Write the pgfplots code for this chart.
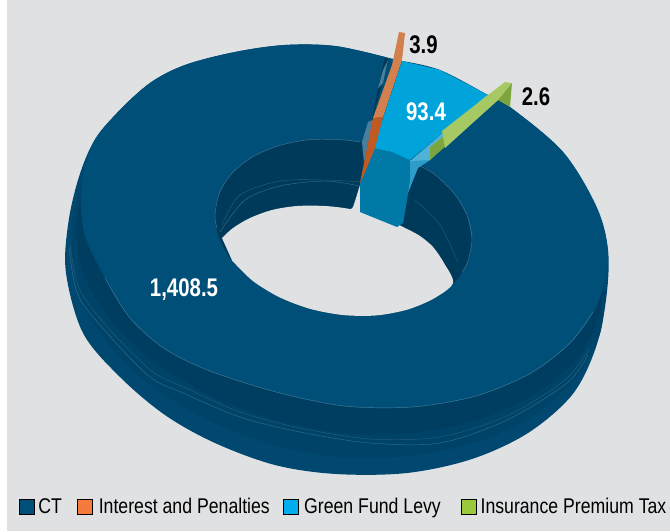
\documentclass[border=0pt]{standalone}
\usepackage{pgfplots}
\pgfplotsset{compat=1.18}
\usepackage{fontspec}
\setmainfont{Liberation Sans}
\newfontfamily\cond[FakeStretch=0.83]{Liberation Sans}
\newfontfamily\condlab[FakeStretch=0.8]{Liberation Sans}
\definecolor{bg}{HTML}{E0E1E3}
\definecolor{ct}{HTML}{004F78}
\definecolor{ctside}{HTML}{00486F}
\definecolor{ctmid}{HTML}{004368}
\definecolor{ctdark}{HTML}{003E61}
\definecolor{wall}{HTML}{003A5A}
\definecolor{rim}{HTML}{6F9BB4}
\definecolor{gflblue}{HTML}{00A3DA}
\definecolor{bluewall}{HTML}{0079A6}
\definecolor{blueside}{HTML}{2E9CC8}
\definecolor{blueband}{HTML}{4FB3D8}
\definecolor{legorange}{HTML}{F47B3C}
\definecolor{orangedark}{HTML}{C05A22}
\definecolor{orangelight}{HTML}{D2804E}
\definecolor{leggreen}{HTML}{9ACA3C}
\definecolor{greenlight}{HTML}{A6C964}
\definecolor{greendark}{HTML}{7DA53E}
\definecolor{slate}{HTML}{4A7E9C}
\definecolor{legblue}{HTML}{00AEEF}
\begin{document}
\begin{tikzpicture}
\begin{axis}[
  width=670pt, height=531pt, scale only axis,
  xmin=0, xmax=670, ymin=0, ymax=531, y dir=reverse,
  hide axis, clip=true,
  seg/.style={forget plot, draw=none, fill=#1},
  rimline/.style={forget plot, smooth, line width=0.45pt, color=rim},
  legend columns=4,
  legend cell align=left,
  legend style={draw=none, fill=none, at={(axis cs:19,517)}, anchor=south west,
    inner sep=0pt, outer sep=0pt, font=\cond\fontsize{21.3}{21.3}\selectfont,
    /tikz/every odd column/.style={column sep=2pt}},
  legend image code/.code={\fill[#1] (0pt,-7.5pt) rectangle (15pt,7.5pt);},
]
% background
\addplot[seg=white] coordinates {(0,0) (7,0) (7,531) (0,531)} --cycle;
\addplot[seg=bg] coordinates {(7,0) (670,0) (670,531) (7,531)} --cycle;

% side of the ring, outer silhouette
\addplot[seg=ctside, smooth, tension=0.55] coordinates {
  (385,57) (335,46) (285,45) (235,52) (185,65) (150,83) (117,113) (93,143) (78,180)
  (68,225) (66,273) (83,333) (120,377) (165,415) (215,443) (275,465) (336,474) (407,473)
  (472,459) (528,433) (572,395) (595,350) (606,300) (608,250) (595,205) (563,152) (510,107)} --cycle;
% shading steps of the side
\addplot[seg=ctmid, smooth, tension=0.55] coordinates {
  (84,175) (72,225) (78,290) (104,338) (147,382) (204,418) (268,443) (338,457)
  (408,456) (473,443) (529,418) (572,382) (599,337) (606,290)} --cycle;
\addplot[seg=ctdark, smooth, tension=0.55] coordinates {
  (88,175) (76,225) (83,271) (109,318) (152,360) (208,394) (272,419) (341,433)
  (410,433) (474,421) (530,397) (573,363) (597,322) (604,285)} --cycle;

% top surface
\addplot[seg=ct, smooth, tension=0.55] coordinates {
  (385,57) (335,46) (285,45) (235,52) (185,65) (150,83) (117,113) (93,143) (82,185)
  (84,232) (105,278) (130,318) (165,349) (210,371) (276,392) (344,406)
  (412,407) (476,396) (531,373) (570,343) (597,305) (608,258) (598,210)
  (563,152) (510,107) (488,95) (440,70) (402,61)} --cycle;

% inner wall of the hole
\addplot[seg=wall, smooth, tension=0.6] coordinates {
  (472,240) (467.6,262.1) (454.8,282) (434.4,298.2) (407.8,309.5) (376.8,315.4) (343.5,315.1)
  (310.2,308.9) (279.3,297.2) (252.6,280.8) (232.2,260.7) (219.4,238.3) (215,215.2)
  (219.4,192.9) (232.2,173) (252.6,156.8) (279.3,145.5) (310.2,139.6) (343.5,139.9)
  (376.8,146.1) (407.8,157.8) (434.4,174.2) (454.8,194.3) (467.6,216.7)} --cycle;
% the hole itself
\addplot[seg=bg, smooth, tension=0.5] coordinates {
  (222,238) (233,228) (250,218) (272,210) (297,206) (325,206) (350,209)
  (380,216) (405,228) (420,236) (433,247) (444,263) (453,283)
  (434.4,298.2) (407.8,309.5) (376.8,315.4) (343.5,315.1)
  (310.2,308.9) (279.3,297.2) (252.6,280.8) (232.2,260.7)} --cycle;
% gap between the CT ends
\addplot[seg=bg] coordinates {(350,210) (353,207) (356,198) (359,188) (361,183) (360,212)} --cycle;

\addplot[rimline, opacity=0.6] coordinates {(217,228) (215,215.2) (219.4,192.9) (232.2,173) (252.6,156.8) (279.3,145.5) (310.2,139.6) (343.5,139.9) (360,142)};
\addplot[rimline, opacity=0.6] coordinates {(420,166) (434.4,174.2) (454.8,194.3) (467.6,216.7) (472,240) (467.6,262.1) (462,272)};
\addplot[rimline, opacity=0.35] coordinates {(222,225) (240,195) (280,181) (325,180) (362,182)};
\addplot[rimline, opacity=0.5] coordinates {(220,232) (245,200) (280,186) (325,181) (360,186)};
\addplot[rimline, opacity=0.3] coordinates {(415,200) (440,225) (458,262)};

% side lines
\addplot[rimline, opacity=0.6] coordinates {(105,278) (130,318) (165,349) (210,371) (276,392) (344,406) (412,407) (476,396) (531,373) (570,343) (593,312)};
\addplot[rimline, opacity=0.45] coordinates {(69,248) (78,295) (107,333) (150,377) (183,393) (240,417) (300,432) (370,443) (440,443) (507,420) (567,383) (588,355)};
\addplot[rimline, opacity=0.3] coordinates {(70,245) (80,290) (110,330) (153,372) (186,388) (240,412) (300,428) (370,439) (440,437) (507,416) (565,380) (590,348)};

% Green Fund Levy
\addplot[seg=bluewall] coordinates {(373,148) (392,152) (410,160) (410,180) (403,223) (397,227) (360,212) (360,183)} --cycle;
\addplot[seg=blueside] coordinates {(410,160) (430,160) (418,168) (408,193) (403,223) (410,180)} --cycle;
\addplot[seg=gflblue] coordinates {(402,61) (440,70) (488,95) (410,160) (392,152) (373,148)} --cycle;
\addplot[seg=blueband] coordinates {(487,95) (489,100) (430,160) (410,161)} --cycle;

% Insurance Premium Tax
\addplot[seg=greendark] coordinates {(512,83) (510,107) (498,100) (430,160) (430,147)} --cycle;
\addplot[seg=greenlight] coordinates {(505,82) (512,83) (498,100) (445,148) (442,131) (488,95)} --cycle;

% CT cut face
\addplot[seg=wall] coordinates {(385,57) (389,60) (373,118) (364,170) (362,143) (372,120) (378,88)} --cycle;
\addplot[seg=slate] coordinates {(388,60) (383,83) (378,88) (383,70)} --cycle;
\addplot[seg=slate] coordinates {(368,122) (373,120) (364,163) (362,142)} --cycle;

% Interest and Penalties
\addplot[seg=orangedark] coordinates {(373,118) (383,117) (375,148) (363,177) (360,183) (367,148)} --cycle;
\addplot[seg=orangelight] coordinates {(399,32) (405,33) (402,60) (383,117) (373,118) (392,65)} --cycle;

% legend
\addlegendimage{fill=ct}
\addlegendentry{\makebox[37pt][l]{CT}}
\addlegendimage{fill=legorange}
\addlegendentry{\makebox[184pt][l]{\hspace{2pt}Interest and Penalties}}
\addlegendimage{fill=legblue}
\addlegendentry{\makebox[157pt][l]{\hspace{2pt}Green Fund Levy}}
\addlegendimage{fill=leggreen}
\addlegendentry{Insurance Premium Tax}

% value labels
\node[text=white, font=\condlab\bfseries\fontsize{25.5}{25.5}\selectfont] at (axis cs:184,290) {1,408.5};
\node[text=white, font=\condlab\bfseries\fontsize{25.5}{25.5}\selectfont] at (axis cs:426,112) {93.4};
\node[text=black, font=\condlab\bfseries\fontsize{25.5}{25.5}\selectfont] at (axis cs:423.5,45) {3.9};
\node[text=black, font=\condlab\bfseries\fontsize{25.5}{25.5}\selectfont] at (axis cs:536,97) {2.6};
\end{axis}
\end{tikzpicture}
\end{document}
